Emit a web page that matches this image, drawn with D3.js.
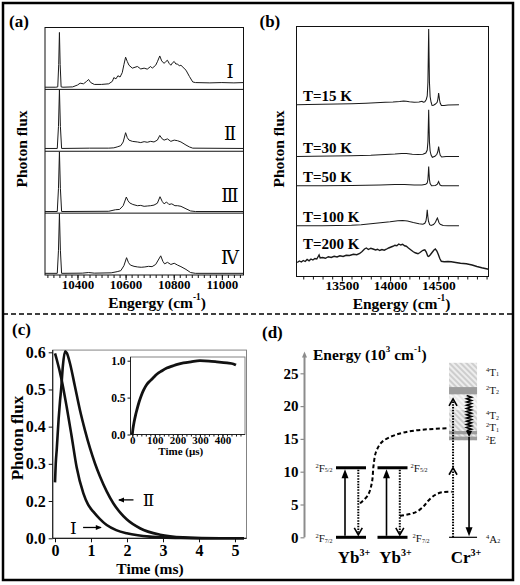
<!DOCTYPE html>
<html><head><meta charset="utf-8">
<script src="https://cdn.jsdelivr.net/npm/d3@7"></script>
<style>body{margin:0;background:#fff;}</style>
</head><body><svg id="c" width="520" height="585"></svg>
<script>
// ================= DATA =================
// (a) up-conversion spectra, energies in cm^-1, relative flux
const aTicks = [10400, 10600, 10800, 11000];
const aSampleLabels = ['Ⅰ', 'Ⅱ', 'Ⅲ', 'Ⅳ'];
const specI = [[10265,0.035],[10310,0.035],[10318,0.04],[10322,0.4],[10325,0.92],[10328,0.4],[10332,0.04],[10340,0.035],[10380,0.04],[10400,0.07],[10411,0.10],[10425,0.09],[10438,0.13],[10446,0.16],[10455,0.11],[10470,0.08],[10500,0.08],[10530,0.09],[10545,0.13],[10551,0.19],[10560,0.17],[10568,0.22],[10577,0.2],[10586,0.27],[10593,0.4],[10600,0.52],[10607,0.45],[10614,0.39],[10628,0.343],[10649,0.37],[10663,0.33],[10677,0.343],[10690,0.327],[10704,0.37],[10711,0.343],[10725,0.39],[10732,0.446],[10742,0.54],[10750,0.46],[10760,0.42],[10767,0.45],[10774,0.47],[10781,0.42],[10788,0.39],[10795,0.43],[10802,0.45],[10809,0.41],[10816,0.41],[10823,0.38],[10830,0.39],[10851,0.31],[10865,0.21],[10879,0.12],[10890,0.11],[10950,0.105],[11000,0.11],[11050,0.105],[11090,0.11]];
const specII = [[10265,0.045],[10316,0.045],[10321,0.4],[10325,0.99],[10329,0.4],[10334,0.045],[10450,0.05],[10530,0.05],[10551,0.055],[10565,0.07],[10580,0.09],[10590,0.15],[10600,0.30],[10607,0.22],[10614,0.18],[10628,0.16],[10649,0.15],[10663,0.14],[10677,0.155],[10690,0.145],[10704,0.16],[10718,0.15],[10732,0.18],[10742,0.255],[10752,0.2],[10760,0.18],[10774,0.2],[10788,0.16],[10802,0.18],[10816,0.17],[10830,0.15],[10851,0.1],[10865,0.07],[10879,0.05],[11090,0.045]];
const specIII = [[10265,0.026],[10316,0.026],[10321,0.4],[10325,0.99],[10329,0.4],[10334,0.026],[10530,0.03],[10558,0.055],[10575,0.06],[10590,0.12],[10603,0.26],[10610,0.2],[10617,0.165],[10630,0.14],[10649,0.12],[10663,0.125],[10677,0.11],[10690,0.115],[10704,0.12],[10718,0.13],[10732,0.16],[10743,0.265],[10752,0.19],[10760,0.15],[10770,0.18],[10780,0.14],[10792,0.15],[10805,0.12],[10816,0.12],[10830,0.11],[10851,0.07],[10870,0.035],[10890,0.026],[11090,0.026]];
const specIV = [[10265,0.027],[10316,0.027],[10321,0.4],[10325,0.99],[10329,0.4],[10334,0.027],[10420,0.03],[10446,0.04],[10470,0.03],[10540,0.035],[10565,0.054],[10580,0.07],[10593,0.15],[10604,0.28],[10612,0.2],[10620,0.16],[10635,0.14],[10650,0.13],[10665,0.125],[10680,0.13],[10695,0.14],[10710,0.135],[10725,0.17],[10746,0.31],[10755,0.22],[10762,0.18],[10774,0.205],[10788,0.17],[10802,0.19],[10816,0.16],[10830,0.135],[10851,0.09],[10870,0.04],[10890,0.027],[11090,0.027]];

// (b) temperature-dependent spectra (relative flux, stacked with offsets)
const bTicks = [13500, 14000, 14500];
const bTempLabels = ['T=15 K', 'T=30 K', 'T=50 K', 'T=100 K', 'T=200 K'];
const bOffsets = [68.7, 48, 36.3, 20.3, 0];
const bLabelAt = [68.7, 48, 36.3, 20.3, 9.8];
const spec15 = [[13030,0],[13150,0.1],[13300,0.2],[13450,0.3],[13600,0.4],[13750,0.6],[13850,0.8],[13950,1.0],[14030,1.1],[14100,1.3],[14140,1.5],[14168,1.4],[14200,1.2],[14250,1.0],[14300,1.1],[14330,1.4],[14345,1.0],[14360,1.2],[14375,2.1],[14385,3.5],[14392,8.9],[14396,19],[14400,30.3],[14404,19],[14408,8.9],[14415,3.2],[14425,1.0],[14435,-0.3],[14450,-0.2],[14470,0.3],[14488,1.0],[14495,2.2],[14500,3.6],[14503,4.7],[14507,3.6],[14512,2.0],[14520,0.6],[14532,-0.3],[14560,-0.3],[14600,-0.1],[14714,0]];
const spec30 = [[13030,0],[13200,0.1],[13400,0.2],[13600,0.3],[13800,0.5],[13950,0.8],[14050,1.0],[14120,1.2],[14168,1.2],[14230,0.9],[14290,0.8],[14340,0.9],[14370,1.4],[14385,2.6],[14392,5.8],[14396,11.8],[14400,18.7],[14404,11.8],[14408,5.8],[14415,2.2],[14425,0.6],[14438,-0.3],[14465,0.1],[14485,0.9],[14495,2.0],[14500,3.1],[14503,4.0],[14507,3.1],[14512,1.8],[14520,0.5],[14535,-0.2],[14580,0],[14714,0]];
const spec50 = [[13030,0],[13300,0],[13600,0.1],[13900,0.3],[14050,0.5],[14150,0.5],[14250,0.3],[14330,0.3],[14370,0.6],[14385,1.1],[14392,2.5],[14396,4.8],[14400,7.7],[14404,4.8],[14408,2.5],[14415,0.9],[14430,0.0],[14470,0.1],[14490,0.6],[14497,1.2],[14503,1.7],[14509,1.1],[14518,0.3],[14535,0],[14714,0]];
const spec100 = [[13030,0],[13300,0],[13600,0.2],[13700,0.4],[13800,0.8],[13900,1.2],[14000,1.6],[14080,2.0],[14130,2.1],[14180,1.9],[14240,1.3],[14300,0.8],[14340,0.6],[14360,1.0],[14372,2.0],[14379,3.8],[14385,6.4],[14391,3.8],[14398,1.8],[14410,0.4],[14425,0.1],[14450,0.5],[14470,1.4],[14480,2.3],[14490,3.1],[14497,2.4],[14506,1.3],[14520,0.6],[14550,0.1],[14600,0],[14714,0]];
const spec200 = [[13037,5.6],[13060,6.2],[13080,5.8],[13100,6.4],[13120,6.0],[13140,6.8],[13160,6.3],[13180,7.0],[13200,6.6],[13220,7.2],[13240,7.0],[13255,8.0],[13264,8.6],[13275,7.4],[13300,7.6],[13330,7.3],[13360,7.9],[13390,7.6],[13420,8.1],[13450,7.8],[13480,8.3],[13513,8.0],[13545,8.5],[13580,8.4],[13620,8.9],[13655,8.7],[13685,9.2],[13710,10.0],[13735,11.0],[13754,11.4],[13775,10.8],[13800,11.3],[13823,11.0],[13850,10.6],[13870,10.9],[13892,10.4],[13915,10.8],[13940,10.5],[13961,10.9],[13985,11.4],[14010,11.8],[14030,12.1],[14050,12.5],[14070,12.3],[14090,13.0],[14110,12.6],[14130,12.9],[14150,12.3],[14168,12.1],[14190,11.4],[14210,10.8],[14237,10.0],[14260,9.5],[14289,9.1],[14310,9.6],[14330,10.2],[14345,10.5],[14360,10.7],[14375,9.8],[14390,8.2],[14400,8.0],[14415,8.6],[14435,9.6],[14455,10.6],[14469,11.0],[14485,10.2],[14500,8.8],[14515,7.2],[14531,6.1],[14560,5.9],[14600,6.0],[14634,5.9],[14680,5.6],[14730,5.3],[14790,5.1],[14850,4.6],[14900,4.0],[14950,3.5],[14997,3.1],[15020,2.9]];

// (c) decay curves: time (ms), photon flux
const cXTicks = [0, 1, 2, 3, 4, 5];
const cYTicks = [0, 0.2, 0.3, 0.4, 0.5, 0.6];
const decayI = [[0,0.597],[0.05,0.58],[0.186,0.525],[0.325,0.453],[0.464,0.373],[0.603,0.29],[0.786,0.221],[0.92,0.18],[1.064,0.143],[1.25,0.103],[1.436,0.071],[1.7,0.044],[1.992,0.027],[2.3,0.016],[2.64,0.009],[3.0,0.005],[3.5,0.002],[4.03,0.0005],[5.25,0]];
const decayII = [[0,0.25],[0.02,0.3],[0.047,0.337],[0.1,0.42],[0.14,0.47],[0.17,0.5],[0.22,0.565],[0.28,0.603],[0.33,0.598],[0.417,0.57],[0.55,0.51],[0.694,0.444],[0.833,0.39],[0.972,0.342],[1.111,0.301],[1.25,0.266],[1.436,0.226],[1.619,0.188],[1.806,0.139],[1.99,0.102],[2.36,0.054],[2.92,0.019],[3.56,0.005],[4.58,0],[5.25,0]];
const insetXTicks = [0, 100, 200, 300, 400];
const insetYTicks = [0, 0.5, 1.0];
const riseInset = [[0,0.0],[3,0.08],[8,0.17],[15,0.27],[20,0.33],[30,0.44],[40,0.53],[50,0.6],[65,0.68],[80,0.73],[93,0.77],[110,0.82],[130,0.86],[153,0.9],[180,0.93],[200,0.95],[227,0.97],[260,0.985],[300,1.0],[340,0.995],[375,0.985],[420,0.97],[449,0.955],[460,0.94]];

// (d) energy levels (10^3 cm^-1)
const dTicks = [0, 5, 10, 15, 20, 25];
const ionNames = ['Yb', 'Yb', 'Cr'];
const ionColumns = [1, 2, 3.7];
const ybLevels = [0, 10.6];
const crHatched = [[14.8, 26.6]];
const crLight = [[19.4, 21.8]];
const crGray = [[21.8, 22.9], [15.7, 16.2], [14.8, 15.35]];
const crLabels = [['4','T','1',25.2],['2','T','2',22.5],['4','T','2',18.6],['2','T','1',16.8],['2','E','',14.9],['4','A','2',-0.2]];
const transferPath1 = [[1.217,5.18],[1.41,6.45],[1.506,8.43],[1.542,10.87],[1.602,13.0],[1.747,14.53],[2.06,15.59],[2.542,16.28],[3.313,16.62]];
const transferPath2 = [[2.181,3.25],[2.422,3.55],[2.583,3.9],[2.742,4.66],[2.863,5.58],[3.024,6.45],[3.186,6.86],[3.427,6.95]];

// ================= DRAW =================
const SERIF = '"Liberation Serif","Times New Roman",serif';
const ROMAN = '"DejaVu Serif","Liberation Serif",serif';
const svg = d3.select('#c');
svg.append('rect').attr('width',520).attr('height',585).attr('fill','#fff');

function txt(g, x, y, s, size, opts={}) {
  const t = g.append('text').attr('x',x).attr('y',y).text(s)
    .attr('font-size', size)
    .attr('font-weight', opts.weight || 'bold')
    .attr('text-anchor', opts.anchor || 'start')
    .attr('dominant-baseline', opts.base || 'central');
  if (opts.roman) t.attr('class','roman');
  return t;
}
function styleAxis(sel, size) {
  sel.attr('font-family', null).attr('font-size', size).attr('font-weight','bold');
  sel.select('.domain').remove();
  sel.selectAll('line').attr('stroke','#111');
  sel.selectAll('text').attr('fill','#000');
}
function head(g, x, y, ang, len, wid, filled, color) {
  const a = ang*Math.PI/180, bx = x-len*Math.cos(a), by = y-len*Math.sin(a);
  const px = -Math.sin(a)*wid/2, py = Math.cos(a)*wid/2;
  const pts = [[bx+px,by+py],[x,y],[bx-px,by-py]];
  const p = g.append('path').attr('d','M'+pts.map(q=>q.join(',')).join('L')+(filled?'Z':''));
  if (filled) p.attr('fill', color||'#000'); else p.attr('fill','none').attr('stroke',color||'#000').attr('stroke-width',1.6);
}
function ylabel(g, x, y, s, size) {
  g.append('text').attr('transform',`translate(${x},${y}) rotate(-90)`).text(s)
   .attr('font-size',size).attr('font-weight','bold')
   .attr('text-anchor','middle').attr('dominant-baseline','central');
}
function energyTitle(g, x, y, size, anchor) {
  const t = g.append('text').attr('x',x).attr('y',y).attr('font-size',size)
    .attr('font-weight','bold').attr('text-anchor',anchor).attr('dominant-baseline','central');
  t.append('tspan').text('Engergy (cm');
  t.append('tspan').text('-1').attr('font-size',size*0.6).attr('dy',-5);
  t.append('tspan').text(')').attr('dy',5);
}

// outer frame & separator
svg.append('rect').attr('x',3).attr('y',3).attr('width',510).attr('height',577)
  .attr('fill','none').attr('stroke','#000').attr('stroke-width',2.5);
svg.append('line').attr('x1',3).attr('x2',513).attr('y1',314).attr('y2',314)
  .attr('stroke','#000').attr('stroke-width',1.5).attr('stroke-dasharray','5,3');

// ---------- (a) ----------
const ga = svg.append('g');
const aX = d3.scaleLinear().domain([10265, 11090]).range([45, 243.5]);
const aTop = 27.5, aBot = 275, aH = (aBot - aTop) / 4;
ga.append('rect').attr('x',45).attr('y',aTop).attr('width',198.5).attr('height',aBot-aTop)
  .attr('fill','none').attr('stroke','#111').attr('stroke-width',1);
[1,2,3].forEach(i => ga.append('line').attr('x1',45).attr('x2',243.5)
  .attr('y1',aTop+i*aH).attr('y2',aTop+i*aH).attr('stroke','#111').attr('stroke-width',1));
[specI, specII, specIII, specIV].forEach((s, i) => {
  const y = d3.scaleLinear().domain([0,1]).range([aTop+(i+1)*aH, aTop+i*aH]);
  ga.append('path').datum(s).attr('d', d3.line().x(d=>aX(d[0])).y(d=>y(d[1])))
    .attr('fill','none').attr('stroke','#1a1a1a').attr('stroke-width',1);
  txt(ga, 230, y(0.29), aSampleLabels[i], 18, {roman:true, weight:'normal', anchor:'middle'});
});
styleAxis(ga.append('g').attr('transform',`translate(0,${aBot})`)
  .call(d3.axisBottom(aX).tickValues(d3.range(10275, 11090, 25)).tickSize(3).tickSizeOuter(0).tickFormat('')), 12);
styleAxis(ga.append('g').attr('transform',`translate(0,${aBot})`)
  .call(d3.axisBottom(aX).tickValues(aTicks).tickSize(5).tickSizeOuter(0).tickPadding(0).tickFormat(d3.format('d'))), 13);
energyTitle(ga, 157, 302, 15.5, 'middle');
ylabel(ga, 21, 149, 'Photon flux', 15.5);
txt(ga, 9, 21.5, '(a)', 17);

// ---------- (b) ----------
const gb = svg.append('g');
const bX = d3.scaleLinear().domain([13030, 15020]).range([296.5, 488.5]);
const bY = d3.scaleLinear().domain([0, 100]).range([276.5, 26.5]);
gb.append('rect').attr('x',296.5).attr('y',26.5).attr('width',192).attr('height',250)
  .attr('fill','none').attr('stroke','#111').attr('stroke-width',1);
[spec15, spec30, spec50, spec100, spec200].forEach((s, i) => {
  gb.append('path').datum(s).attr('d', d3.line().x(d=>bX(d[0])).y(d=>bY(d[1]+bOffsets[i])))
    .attr('fill','none').attr('stroke','#1a1a1a').attr('stroke-width', i===4 ? 1.4 : 1.05);
  txt(gb, 303, bY(bLabelAt[i]) - 3.5, bTempLabels[i], 15, {base:'auto'});
});
styleAxis(gb.append('g').attr('transform','translate(0,276.5)')
  .call(d3.axisBottom(bX).tickValues(d3.range(13100, 15001, 100)).tickSize(3).tickSizeOuter(0).tickFormat('')), 12);
styleAxis(gb.append('g').attr('transform','translate(0,276.5)')
  .call(d3.axisBottom(bX).tickValues(bTicks).tickSize(5).tickSizeOuter(0).tickPadding(-1).tickFormat(d3.format('d'))), 13.5);
energyTitle(gb, 401.5, 303, 15.5, 'middle');
ylabel(gb, 278.5, 149, 'Photon flux', 15.5);
txt(gb, 259.5, 21.5, '(b)', 17);

// ---------- (c) ----------
const gc = svg.append('g');
const cX = d3.scaleLinear().domain([-0.064, 5.32]).range([52.7, 246.5]);
const cY = d3.scaleLinear().domain([0, 0.2, 0.6]).range([538.3, 501, 352.3]);
gc.append('rect').attr('x',52.7).attr('y',cY(0.606)).attr('width',193.8).attr('height',538.3-cY(0.606))
  .attr('fill','none').attr('stroke','#777').attr('stroke-width',0.9);
gc.append('line').attr('x1',52.7).attr('x2',52.7).attr('y1',cY(0.606)).attr('y2',538.3).attr('stroke','#222').attr('stroke-width',1.2);
gc.append('line').attr('x1',52.7).attr('x2',246.5).attr('y1',538.3).attr('y2',538.3).attr('stroke','#222').attr('stroke-width',1.2);
styleAxis(gc.append('g').attr('transform','translate(52.7,0)')
  .call(d3.axisLeft(cY).tickValues(cYTicks).tickSize(4).tickSizeOuter(0).tickPadding(3).tickFormat(d3.format('.1f'))), 16);
styleAxis(gc.append('g').attr('transform','translate(0,538.3)')
  .call(d3.axisBottom(cX).tickValues(cXTicks).tickSize(4).tickSizeOuter(0).tickPadding(2).tickFormat(d3.format('d'))), 16);
[decayI, decayII].forEach(s => gc.append('path').datum(s)
  .attr('d', d3.line().curve(d3.curveMonotoneX).x(d=>cX(d[0])).y(d=>cY(d[1])))
  .attr('fill','none').attr('stroke','#111').attr('stroke-width',2.6));
txt(gc, 150, 568.5, 'Time (ms)', 15.5, {anchor:'middle'});
ylabel(gc, 17, 438, 'Photon flux', 17);
txt(gc, 12, 329, '(c)', 17);
// annotations
txt(gc, cX(2.44), cY(0.203), 'Ⅱ', 17, {roman:true, weight:'normal'});
gc.append('line').attr('x1',cX(2.18)).attr('x2',cX(1.78)).attr('y1',cY(0.203)).attr('y2',cY(0.203)).attr('stroke','#000').attr('stroke-width',1.3);
head(gc, cX(1.75), cY(0.203), 180, 6, 5, true);
txt(gc, cX(0.42), cY(0.054), 'Ⅰ', 17, {roman:true, weight:'normal'});
gc.append('line').attr('x1',cX(0.78)).attr('x2',cX(1.27)).attr('y1',cY(0.058)).attr('y2',cY(0.058)).attr('stroke','#000').attr('stroke-width',1.3);
head(gc, cX(1.3), cY(0.058), 0, 6, 5, true);
// inset
const iX = d3.scaleLinear().domain([-8, 500]).range([130.5, 245]);
const iY = d3.scaleLinear().domain([0, 1.05]).range([434.5, 357]);
gc.append('rect').attr('x',130.5).attr('y',357).attr('width',114.5).attr('height',77.5)
  .attr('fill','#fff').attr('stroke','#777').attr('stroke-width',0.9);
gc.append('line').attr('x1',130.5).attr('x2',130.5).attr('y1',357).attr('y2',434.5).attr('stroke','#222');
gc.append('line').attr('x1',130.5).attr('x2',245).attr('y1',434.5).attr('y2',434.5).attr('stroke','#222');
styleAxis(gc.append('g').attr('transform','translate(130.5,0)')
  .call(d3.axisLeft(iY).tickValues(insetYTicks).tickSize(3).tickSizeOuter(0).tickPadding(2).tickFormat(d3.format('.1f'))), 11.5);
styleAxis(gc.append('g').attr('transform','translate(0,434.5)')
  .call(d3.axisBottom(iX).tickValues(d3.range(0, 481, 20)).tickSize(2).tickSizeOuter(0).tickFormat('')), 11);
styleAxis(gc.append('g').attr('transform','translate(0,434.5)')
  .call(d3.axisBottom(iX).tickValues(insetXTicks).tickSize(2.5).tickSizeOuter(0).tickPadding(-1).tickFormat(d3.format('d'))), 11);
gc.append('path').datum(riseInset).attr('d', d3.line().curve(d3.curveMonotoneX).x(d=>iX(d[0])).y(d=>iY(d[1])))
  .attr('fill','none').attr('stroke','#111').attr('stroke-width',2.8);
txt(gc, iX(215), 450.5, 'Time (µs)', 11, {anchor:'middle'});

// ---------- (d) ----------
const gd = svg.append('g');
const dY = d3.scaleLinear().domain([0, 25]).range([537.3, 373.3]);
const dX = d3.scaleLinear().domain([1, 2]).range([351, 392.5]);
const defs = svg.append('defs');
const pat = defs.append('pattern').attr('id','hatch').attr('patternUnits','userSpaceOnUse')
  .attr('width',4).attr('height',4).attr('patternTransform','rotate(-45)');
pat.append('rect').attr('width',4).attr('height',4).attr('fill','#ededed');
pat.append('line').attr('x1',1).attr('x2',1).attr('y1',0).attr('y2',4).attr('stroke','#bdbdbd').attr('stroke-width',1.3);
txt(gd, 262, 332, '(d)', 17);
// axis
gd.append('line').attr('x1',304.5).attr('x2',304.5).attr('y1',dY(0)).attr('y2',356)
  .attr('stroke','#8c8c8c').attr('stroke-width',2);
head(gd, 304.5, 351.5, -90, 6, 5, true, '#8c8c8c');
const dAxis = gd.append('g').attr('transform','translate(304.5,0)')
  .call(d3.axisLeft(dY).tickValues(dTicks).tickSize(4).tickSizeOuter(0).tickPadding(2));
styleAxis(dAxis, 15);
dAxis.selectAll('line').attr('stroke','#8c8c8c').attr('stroke-width',1.2);
{
  const t = gd.append('text').attr('x',313).attr('y',353.5).attr('font-size',15.5)
    .attr('font-weight','bold').attr('dominant-baseline','central');
  t.append('tspan').text('Energy (10');
  t.append('tspan').text('3').attr('font-size',9).attr('dy',-5);
  t.append('tspan').text(' cm').attr('dy',5);
  t.append('tspan').text('-1').attr('font-size',9).attr('dy',-5);
  t.append('tspan').text(')').attr('dy',5);
}
function term(g, x, y, sup, main, sub, anchor) {
  const t = g.append('text').attr('x',x).attr('y',y).attr('font-size',11)
    .attr('text-anchor',anchor).attr('dominant-baseline','central').attr('fill','#111');
  t.append('tspan').text(sup).attr('font-size',6.5).attr('dy',-3);
  t.append('tspan').text(main).attr('dy',3);
  if (sub) t.append('tspan').text(sub).attr('font-size',6).attr('dy',2.5);
}
// Yb ions
ionColumns.forEach((c, k) => {
  if (ionNames[k] !== 'Yb') return;
  const cx = dX(c);
  ybLevels.forEach(e => gd.append('line').attr('x1',cx-15).attr('x2',cx+15).attr('y1',dY(e)).attr('y2',dY(e))
    .attr('stroke','#000').attr('stroke-width',3));
  gd.append('line').attr('x1',cx-6).attr('x2',cx-6).attr('y1',dY(0)-1.5).attr('y2',dY(ybLevels[1])+8)
    .attr('stroke','#000').attr('stroke-width',1.6);
  head(gd, cx-6, dY(ybLevels[1])+1.5, -90, 9, 7, true);
  gd.append('line').attr('x1',cx+7.3).attr('x2',cx+7.3).attr('y1',dY(ybLevels[1])+2).attr('y2',dY(0)-3)
    .attr('stroke','#000').attr('stroke-width',2).attr('stroke-dasharray','1.5,1.3');
  head(gd, cx+7.3, dY(0)-2.5, 90, 7, 8, false);
  const left = k === 0;
  term(gd, left ? cx-18.5 : cx+18, dY(ybLevels[1]), '2', 'F', '5/2', left ? 'end' : 'start');
  term(gd, left ? cx-18.5 : cx+20, dY(ybLevels[0]) + 1, '2', 'F', '7/2', left ? 'end' : 'start');
});
// Cr column
const crX = dX(ionColumns[2]);
crHatched.forEach(b => gd.append('rect').attr('x',crX-14).attr('width',28).attr('y',dY(b[1])).attr('height',dY(b[0])-dY(b[1])).attr('fill','url(#hatch)'));
crLight.forEach(b => gd.append('rect').attr('x',crX-14).attr('width',28).attr('y',dY(b[1])).attr('height',dY(b[0])-dY(b[1])).attr('fill','#fff').attr('opacity',0.55));
crGray.forEach(b => gd.append('rect').attr('x',crX-14).attr('width',28).attr('y',dY(b[1])).attr('height',dY(b[0])-dY(b[1])).attr('fill','#9c9c9c'));
gd.append('line').attr('x1',crX-14).attr('x2',crX+14).attr('y1',dY(0)).attr('y2',dY(0)).attr('stroke','#000').attr('stroke-width',1.2);
crLabels.forEach(l => term(gd, crX+23, dY(l[3]), l[0], l[1], l[2], 'start'));
// Cr dotted excitation
gd.append('line').attr('x1',crX-10).attr('x2',crX-10).attr('y1',dY(0)).attr('y2',dY(21.0))
  .attr('stroke','#000').attr('stroke-width',2).attr('stroke-dasharray','1.5,1.3');
head(gd, crX-10, dY(10.6), -90, 7, 8, false);
head(gd, crX-10, dY(21.1), -90, 7, 8, false);
// wavy relaxation
{
  const y0 = dY(21.6), y1 = dY(16.2), xw = crX + 6;
  const pts = d3.range(y0, y1, 1.6).map((y, i) => [xw + (i % 2 ? 2.4 : -2.4), y]);
  gd.append('path').attr('d', d3.line()(pts)).attr('fill','none').attr('stroke','#000').attr('stroke-width',1.6);
  head(gd, xw, dY(15.3), 90, 6, 6, true);
}
// Cr emission
gd.append('line').attr('x1',crX+6).attr('x2',crX+6).attr('y1',dY(15.3)).attr('y2',dY(0)-8)
  .attr('stroke','#000').attr('stroke-width',1.6);
head(gd, crX+6, dY(0)-1, 90, 9, 7, true);
// energy transfer paths
[transferPath1, transferPath2].forEach(p => gd.append('path').datum(p)
  .attr('d', d3.line().curve(d3.curveCatmullRom).x(d=>dX(d[0])).y(d=>dY(d[1])))
  .attr('fill','none').attr('stroke','#000').attr('stroke-width',2).attr('stroke-dasharray','4,2.5'));
// ion names
ionColumns.forEach((c, k) => {
  const t = gd.append('text').attr('x',dX(c)+3).attr('y',557).attr('font-size',17)
    .attr('font-weight','bold').attr('text-anchor','middle').attr('dominant-baseline','central');
  t.append('tspan').text(ionNames[k]);
  t.append('tspan').text('3+').attr('font-size',10).attr('dy',-5);
});

// fonts (inline style so they always apply)
svg.selectAll('text').style('font-family', SERIF);
svg.selectAll('text.roman').style('font-family', ROMAN);
</script></body></html>
